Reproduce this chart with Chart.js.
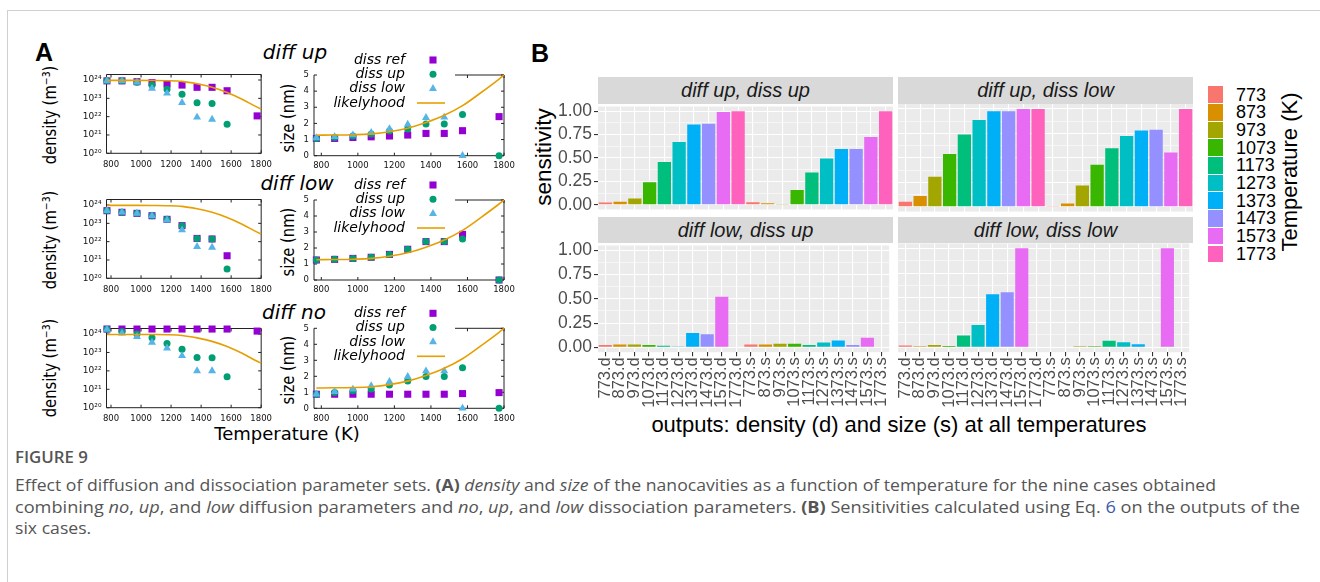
<!DOCTYPE html>
<html>
<head>
<meta charset="utf-8">
<script src="https://cdn.jsdelivr.net/npm/chart.js@4.4.1/dist/chart.umd.min.js"></script>
<style>
  body { margin: 0; width: 1320px; height: 582px; position: relative; overflow: hidden; background: #fff; }
  .frame { position: absolute; left: 7px; top: 10px; width: 1400px; height: 700px; border: 1px solid #d0d0d0; }
  canvas { position: absolute; }
  .t { position: absolute; white-space: nowrap; line-height: 1; transform: translate(-50%, -50%); }
  .rot { transform: translate(-50%, -50%) rotate(-90deg); }
  .rotc { transform: translate(-50%, -50%) rotate(-90deg) scaleX(0.8); }
  .gp { font-family: 'DejaVu Sans', sans-serif; color: #000; }
  .gg { font-family: 'Liberation Sans', Arial, sans-serif; }
  .strip { position: absolute; background: #D9D9D9; color: #1A1A1A; font: italic 20px 'Liberation Sans', Arial, sans-serif;
           display: flex; align-items: center; justify-content: center; }
  .key { position: absolute; left: 1208px; width: 15px; }
  .klab { position: absolute; left: 1236px; font: 18px 'Liberation Sans', Arial, sans-serif; line-height: 1; transform: translateY(-50%); }
  .cap { position: absolute; left: 15px; white-space: nowrap; line-height: 1; font-family: 'Open Sans', sans-serif;
         color: #555; font-size: 15.5px; transform-origin: left center; }
</style>
</head>
<body>
<div class="frame"></div>

<div class="t gg" style="left:44px;top:52px;font-size:25px;font-weight:bold;">A</div>
<div class="t gg" style="left:540px;top:53px;font-size:25px;font-weight:bold;">B</div>

<div class="t gp" style="left:295px;top:52px;font-size:20px;font-style:italic;">diff up</div>
<div class="t gp" style="left:297px;top:183px;font-size:20px;font-style:italic;">diff low</div>
<div class="t gp" style="left:294px;top:312px;font-size:20px;font-style:italic;">diff no</div>

<div class="t gp rotc" style="left:50px;top:115px;font-size:18.5px;">density (m⁻³)</div>
<div class="t gp rotc" style="left:50px;top:240px;font-size:18.5px;">density (m⁻³)</div>
<div class="t gp rotc" style="left:50px;top:368px;font-size:18.5px;">density (m⁻³)</div>
<div class="t gp rotc" style="left:288px;top:118px;font-size:18.5px;">size (nm)</div>
<div class="t gp rotc" style="left:288px;top:242px;font-size:18.5px;">size (nm)</div>
<div class="t gp rotc" style="left:288px;top:370px;font-size:18.5px;">size (nm)</div>
<div class="t gp" style="left:287px;top:434px;font-size:18px;">Temperature (K)</div>

<div class="t gg rot" style="left:544px;top:157px;font-size:22.5px;">sensitivity</div>
<div class="t gg" style="left:899px;top:425px;font-size:22px;">outputs: density (d) and size (s) at all temperatures</div>
<div class="t gg rot" style="left:1290px;top:172px;font-size:22px;">Temperature (K)</div>

<div class="strip" style="left:598px;top:77px;width:295px;height:27px;">diff up, diss up</div>
<div class="strip" style="left:898px;top:77px;width:295px;height:27px;">diff up, diss low</div>
<div class="strip" style="left:598px;top:217px;width:295px;height:26px;">diff low, diss up</div>
<div class="strip" style="left:898px;top:217px;width:295px;height:26px;">diff low, diss low</div>

<div id="legend"></div>

<div class="cap" id="cap0" style="top:458px;font-weight:600;">FIGURE 9</div>
<div class="cap" id="cap1" style="top:486px;">Effect of diffusion and dissociation parameter sets. <b>(A)</b> <i>density</i> and <i>size</i> of the nanocavities as a function of temperature for the nine cases obtained</div>
<div class="cap" id="cap2" style="top:508px;">combining <i>no</i>, <i>up</i>, and <i>low</i> diffusion parameters and <i>no</i>, <i>up</i>, and <i>low</i> dissociation parameters. <b>(B)</b> Sensitivities calculated using Eq. <span style="color:#3b5ba9">6</span> on the outputs of the</div>
<div class="cap" id="cap3" style="top:529px;">six cases.</div>

<script>
// ---- Panel A data ----
const temps = [773, 873, 973, 1073, 1173, 1273, 1373, 1473, 1573, 1773];
const fitTemps = [773, 873, 973, 1073, 1173, 1273, 1373, 1473, 1573, 1673, 1773, 1800];
const fitDensity = [9.5e23, 9.5e23, 9.5e23, 9.4e23, 9.2e23, 8.4e23, 6.2e23, 4e23, 2.1e23, 9e22, 3.3e22, 2.6e22];
const fitSize = [1.27, 1.28, 1.3, 1.35, 1.48, 1.7, 2.05, 2.5, 3.1, 3.9, 4.75, 5.0];

const upDensRef = [9e23, 9e23, 8.1e23, 7.2e23, 6e23, 5.3e23, 4e23, 4e23, 2.6e23, 1.1e22];
const upDensUp = [9e23, 9e23, 7.5e23, 5.3e23, 3.1e23, 1.65e23, 5.8e22, 5.3e22, 3.8e21, null];
const upDensLow = [9e23, 9e23, 7.5e23, 3.5e23, 1.9e23, 5.8e22, 9.2e21, 7.1e21, null, null];
const upSizeRef = [1.07, 1.07, 1.13, 1.17, 1.22, 1.28, 1.38, 1.38, 1.55, 2.42];
const upSizeUp = [1.07, 1.13, 1.22, 1.34, 1.53, 1.65, 1.96, 1.96, 2.56, 0];
const upSizeLow = [1.1, 1.17, 1.28, 1.43, 1.67, 1.94, 2.36, 2.38, 0, null];

const lowDensRef = [4.9e23, 4e23, 3.5e23, 2.6e23, 1.65e23, 7.5e22, 1.5e22, 1.4e22, 1.7e21, null];
const lowDensUp = [4.9e23, 4e23, 3.5e23, 2.6e23, 1.65e23, 7.5e22, 1.5e22, 1.4e22, 3.2e20, null];
const lowDensLow = [4.9e23, 4e23, 3.5e23, 2.6e23, 1.5e23, 4.3e22, 5.3e21, 4.9e21, null, null];
const lowSizeRef = [1.25, 1.29, 1.35, 1.42, 1.6, 1.92, 2.4, 2.4, 2.85, 0];
const lowSizeUp = [1.25, 1.29, 1.35, 1.42, 1.6, 1.92, 2.4, 2.4, 2.56, 0];
const lowSizeLow = [null, null, null, null, null, null, null, null, null, null];

const noDensRef = [1.87e24, 1.87e24, 1.87e24, 1.87e24, 1.87e24, 1.87e24, 1.87e24, 1.87e24, 1.87e24, 1.45e24];
const noDensUp = [1.8e24, 1.34e24, 1e24, 6.3e23, 3.1e23, 1.5e23, 5.4e22, 5.2e22, 4.8e21, null];
const noDensLow = [1.8e24, 1.1e24, 7.2e23, 3.5e23, 1.7e23, 6.6e22, 1e22, 1e22, null, null];
const noSizeRef = [0.88, 0.88, 0.88, 0.88, 0.88, 0.88, 0.88, 0.88, 0.92, 0.98];
const noSizeUp = [0.88, 0.98, 1.1, 1.21, 1.46, 1.71, 1.98, 1.98, 2.54, 0];
const noSizeLow = [0.88, 1.04, 1.19, 1.4, 1.67, 1.98, 2.33, 2.33, 0, null];

const tempTicks = [800, 1000, 1200, 1400, 1600, 1800];
const densTicks = [1e20, 1e21, 1e22, 1e23, 1e24];
const sizeTicks = [0, 1, 2, 3, 4, 5];
const seriesNames = ['diss ref', 'diss up', 'diss low', 'likelyhood'];

// ---- Panel B data ----
const outputLabels = ['773.d', '873.d', '973.d', '1073.d', '1173.d', '1273.d', '1373.d', '1473.d', '1573.d', '1773.d',
                      '773.s', '873.s', '973.s', '1073.s', '1173.s', '1273.s', '1373.s', '1473.s', '1573.s', '1773.s'];
const upUpSens = [0.024, 0.034, 0.068, 0.24, 0.457, 0.672, 0.857, 0.867, 0.99, 1.0,
                  0.027, 0.017, 0.01, 0.157, 0.345, 0.495, 0.597, 0.597, 0.724, 1.0];
const upLowSens = [0.05, 0.11, 0.307, 0.54, 0.737, 0.887, 0.976, 0.976, 1.0, 1.0,
                   0.007, 0.034, 0.218, 0.43, 0.597, 0.724, 0.78, 0.788, 0.553, 1.0];
const lowUpSens = [0.024, 0.03, 0.03, 0.024, 0.017, 0.01, 0.148, 0.135, 0.522, 0,
                   0.03, 0.03, 0.037, 0.037, 0.024, 0.05, 0.07, 0.024, 0.098, 0];
const lowLowSens = [0.017, 0.01, 0.024, 0.013, 0.118, 0.226, 0.535, 0.556, 1.0, 0,
                    0, 0, 0.01, 0.01, 0.067, 0.05, 0.03, 0, 1.0, 0];
const sensMajor = [0, 0.25, 0.5, 0.75, 1];
const sensMinor = [0.125, 0.375, 0.625, 0.875];
const legendTemps = ['773', '873', '973', '1073', '1173', '1273', '1373', '1473', '1573', '1773'];

const HUE = ['#F8766D', '#D89000', '#A3A500', '#39B600', '#00BF7D', '#00BFC4', '#00B0F6', '#9590FF', '#E76BF3', '#FF62BC'];
const PURPLE = '#9400D3', GREEN = '#009E73', BLUE = '#56B4E9', ORANGE = '#E69F00';
const SUP = { '0': '⁰', '1': '¹', '2': '²', '3': '³', '4': '⁴', '5': '⁵', '6': '⁶', '7': '⁷', '8': '⁸', '9': '⁹' };

function addCanvas(b) {
  const c = document.createElement('canvas');
  c.width = b.w; c.height = b.h;
  c.style.left = b.l + 'px'; c.style.top = b.t + 'px';
  c.style.width = b.w + 'px'; c.style.height = b.h + 'px';
  document.body.appendChild(c);
  return c;
}
const pts = (xs, ys) => xs.map((x, i) => ({ x, y: ys[i] })).filter(p => p.y !== null);

// gnuplot-style border with inward mirror ticks (top edge partly hidden by the key)
const gnuFrame = {
  id: 'gnuFrame',
  beforeDatasetsDraw(chart, args, o) {
    const { left, top, right, bottom } = chart.chartArea;
    const ctx = chart.ctx, xs = chart.scales.x, ys = chart.scales.y;
    const tx0 = o.topFrom != null ? o.topFrom : left;
    ctx.save();
    ctx.strokeStyle = '#222'; ctx.lineWidth = 1;
    ctx.beginPath();
    ctx.moveTo(tx0, top); ctx.lineTo(right, top); ctx.lineTo(right, bottom);
    ctx.lineTo(left, bottom); ctx.lineTo(left, top);
    xs.ticks.forEach(t => {
      const px = xs.getPixelForValue(t.value);
      ctx.moveTo(px, bottom); ctx.lineTo(px, bottom - 3);
      if (px >= tx0) { ctx.moveTo(px, top); ctx.lineTo(px, top + 3); }
    });
    ys.ticks.forEach(t => {
      const py = ys.getPixelForValue(t.value);
      ctx.moveTo(left, py); ctx.lineTo(left + 3, py);
      ctx.moveTo(right, py); ctx.lineTo(right - 3, py);
    });
    ctx.stroke();
    ctx.restore();
  }
};

const gnuKey = {
  id: 'gnuKey',
  afterDatasetsDraw(chart, args, o) {
    if (!o.show) return;
    const ctx = chart.ctx, top = chart.chartArea.top;
    ctx.save();
    ctx.font = 'italic 14px "DejaVu Sans"';
    ctx.textAlign = 'right'; ctx.textBaseline = 'middle';
    chart.data.datasets.forEach((ds, i) => {
      const y = top + o.rows[i];
      ctx.fillStyle = '#000';
      ctx.fillText(ds.label, o.textX, y);
      if (ds.showLine) {
        ctx.strokeStyle = ds.borderColor; ctx.lineWidth = ds.borderWidth;
        ctx.beginPath(); ctx.moveTo(o.lineFrom, y); ctx.lineTo(o.lineTo, y); ctx.stroke();
      } else {
        ctx.fillStyle = ds.backgroundColor;
        Chart.helpers.drawPoint(ctx, { pointStyle: ds.pointStyle, radius: ds.pointRadius, rotation: 0, borderWidth: 0 }, o.symX, y);
      }
    });
    ctx.restore();
  }
};

function gnuChart(box, area, kind, series) {
  const isDens = kind === 'dens';
  const tickFont = { family: 'DejaVu Sans', size: 8.5 };
  const styles = [
    { pointStyle: 'rect', pointRadius: 5, color: PURPLE, order: 3 },
    { pointStyle: 'circle', pointRadius: 3.5, color: GREEN, order: 2 },
    { pointStyle: 'triangle', pointRadius: 4.6, color: BLUE, order: 1 }
  ];
  const datasets = styles.map((s, i) => ({
    label: seriesNames[i], data: pts(temps, series[i]), pointStyle: s.pointStyle, pointRadius: s.pointRadius,
    backgroundColor: s.color, borderColor: s.color, pointBorderWidth: 0, order: s.order, clip: false
  }));
  datasets.push({
    label: seriesNames[3], data: pts(fitTemps, series[3]), showLine: true, borderColor: ORANGE, borderWidth: 1.6,
    pointRadius: 0, cubicInterpolationMode: 'monotone', order: 0, clip: false
  });
  return new Chart(addCanvas(box), {
    type: 'scatter',
    data: { datasets },
    options: {
      responsive: false, animation: false, events: [],
      layout: { autoPadding: false, padding: { top: area.t - box.t, right: box.l + box.w - area.r, left: 0, bottom: 0 } },
      plugins: {
        legend: { display: false }, tooltip: { enabled: false },
        gnuFrame: { topFrom: isDens ? null : 455 - box.l },
        gnuKey: { show: !isDens, rows: [-15, -0.7, 13.6, 28], textX: 405 - box.l, symX: 433 - box.l, lineFrom: 417 - box.l, lineTo: 445 - box.l }
      },
      scales: {
        x: {
          type: 'linear', min: isDens ? 770 : 760, max: 1800,
          grid: { display: false, drawTicks: false }, border: { display: false },
          ticks: { font: tickFont, color: '#111', padding: isDens ? 6 : 5, maxRotation: 0, autoSkip: false, callback: v => String(v) },
          afterBuildTicks: s => { s.ticks = tempTicks.map(v => ({ value: v })); },
          afterFit: s => { s.height = box.t + box.h - area.b; }
        },
        y: isDens ? {
          type: 'logarithmic', min: 1e20, max: 2e24,
          grid: { display: false, drawTicks: false }, border: { display: false },
          ticks: { font: { family: 'DejaVu Sans', size: 9 }, color: '#111', padding: 5, autoSkip: false,
                   callback: v => '10' + String(Math.round(Math.log10(v))).split('').map(d => SUP[d]).join('') },
          afterBuildTicks: s => { s.ticks = densTicks.map(v => ({ value: v })); },
          afterFit: s => { s.width = area.l - box.l; }
        } : {
          type: 'linear', min: 0, max: 5,
          grid: { display: false, drawTicks: false }, border: { display: false },
          ticks: { font: tickFont, color: '#111', padding: 5, autoSkip: false, callback: v => String(v) },
          afterBuildTicks: s => { s.ticks = sizeTicks.map(v => ({ value: v })); },
          afterFit: s => { s.width = area.l - box.l; }
        }
      }
    },
    plugins: [gnuFrame, gnuKey]
  });
}

const rowsA = [
  { dens: [upDensRef, upDensUp, upDensLow, fitDensity], size: [upSizeRef, upSizeUp, upSizeLow, fitSize], dT: 74.5, dB: 153.3, sT: 75, sB: 155.7 },
  { dens: [lowDensRef, lowDensUp, lowDensLow, fitDensity], size: [lowSizeRef, lowSizeUp, lowSizeLow, fitSize], dT: 199.5, dB: 278.3, sT: 200, sB: 280 },
  { dens: [noDensRef, noDensUp, noDensLow, fitDensity], size: [noSizeRef, noSizeUp, noSizeLow, fitSize], dT: 328.5, dB: 407.7, sT: 328.3, sB: 408.3 }
];

rowsA.forEach(r => {
  const dt = Math.floor(r.dT) - 12;
  gnuChart({ l: 60, t: dt, w: 218, h: Math.ceil(r.dB) + 22 - dt }, { l: 106.5, r: 265, t: r.dT, b: r.dB }, 'dens', r.dens);
  const st = Math.floor(r.sT) - 40;
  gnuChart({ l: 298, t: st, w: 227, h: Math.ceil(r.sB) + 20 - st }, { l: 314, r: 504, t: r.sT, b: r.sB }, 'size', r.size);
});

// ---- Panel B: ggplot-like facets ----
const panelBg = {
  id: 'panelBg',
  beforeDraw(chart) {
    const { left, top, width, height } = chart.chartArea;
    chart.ctx.save();
    chart.ctx.fillStyle = '#EBEBEB';
    chart.ctx.fillRect(left, top, width, height);
    chart.ctx.restore();
  }
};

function facet(box, area, values, showY, showX) {
  const isMajor = v => sensMajor.some(m => Math.abs(m - v) < 1e-9);
  return new Chart(addCanvas(box), {
    type: 'bar',
    data: {
      labels: outputLabels,
      datasets: [{ data: values, backgroundColor: outputLabels.map((_, i) => HUE[i % 10]), borderWidth: 0,
                   barPercentage: 0.9, categoryPercentage: 1.0 }]
    },
    options: {
      responsive: false, animation: false, events: [],
      layout: { autoPadding: false, padding: {
        top: area.t - box.t, right: box.l + box.w - area.r,
        left: showY ? 0 : area.l - box.l, bottom: showX ? 0 : box.t + box.h - area.b } },
      plugins: { legend: { display: false }, tooltip: { enabled: false } },
      scales: {
        x: {
          type: 'category', offset: true,
          grid: { offset: false, color: '#FFFFFF', lineWidth: 1.1, drawTicks: showX, tickLength: 4, tickColor: '#333' },
          border: { display: false },
          ticks: { display: showX, minRotation: 90, maxRotation: 90, autoSkip: false, padding: 1,
                   font: { family: 'Liberation Sans', size: 16.5 }, color: '#4D4D4D' },
          afterFit: s => { s.height = showX ? box.t + box.h - area.b : 0; }
        },
        y: {
          min: -0.05, max: 1.05,
          grid: {
            color: '#FFFFFF', drawTicks: showY, tickLength: 4,
            lineWidth: c => isMajor(c.tick.value) ? 1.1 : 0.55,
            tickColor: c => isMajor(c.tick.value) ? '#333' : 'rgba(0,0,0,0)'
          },
          border: { display: false },
          ticks: { display: showY, autoSkip: false, padding: 2, font: { family: 'Liberation Sans', size: 17.5 }, color: '#4D4D4D',
                   callback: v => isMajor(v) ? v.toFixed(2) : '' },
          afterBuildTicks: s => { s.ticks = sensMajor.concat(sensMinor).sort((a, b) => a - b).map(v => ({ value: v })); },
          afterFit: s => { s.width = showY ? area.l - box.l : 0; }
        }
      }
    },
    plugins: [panelBg]
  });
}

facet({ l: 550, t: 94, w: 353, h: 128 }, { l: 598, r: 893, t: 104, b: 211.6 }, upUpSens, true, false);
facet({ l: 888, t: 94, w: 315, h: 128 }, { l: 898, r: 1193, t: 104, b: 211.6 }, upLowSens, false, false);
facet({ l: 550, t: 233, w: 353, h: 190 }, { l: 598, r: 893, t: 243.4, b: 352.2 }, lowUpSens, true, true);
facet({ l: 888, t: 233, w: 315, h: 190 }, { l: 898, r: 1193, t: 243.4, b: 352.2 }, lowLowSens, false, true);

// legend for panel B
const leg = document.getElementById('legend');
legendTemps.forEach((lab, i) => {
  const y = 85.7 + i * 17.7;
  const k = document.createElement('div');
  k.className = 'key';
  k.style.cssText = `top:${y + 0.5}px;height:16.7px;background:${HUE[i]}`;
  leg.appendChild(k);
  const t = document.createElement('div');
  t.className = 'klab';
  t.style.top = (y + 8.85) + 'px';
  t.textContent = lab;
  leg.appendChild(t);
});

// condensed caption lines
const capTargets = { cap0: 73, cap1: 1201, cap2: 1285 };
let k1 = 1;
['cap0', 'cap1', 'cap2', 'cap3'].forEach(id => {
  const el = document.getElementById(id);
  const w = el.getBoundingClientRect().width;
  const k = capTargets[id] ? capTargets[id] / w : k1;
  if (id === 'cap1') k1 = k;
  el.style.transform = `translateY(-50%) scaleX(${k})`;
});
</script>
</body>
</html>
